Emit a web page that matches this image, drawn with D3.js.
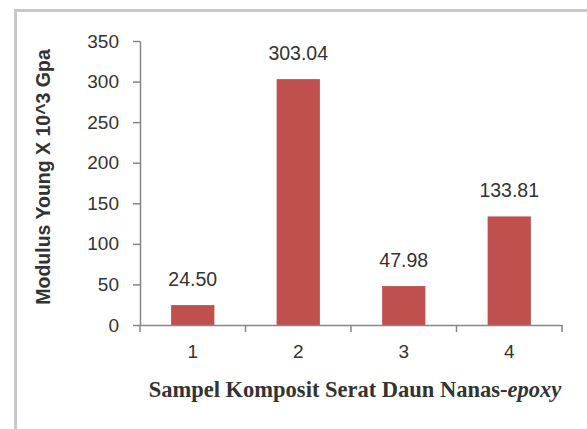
<!doctype html>
<html lang="en">
<head>
  <meta charset="utf-8">
  <title>Modulus Young</title>
  <style>
    body { margin: 0; background: #fff; }
    text { fill: #333; }
  </style>
</head>
<body>
<div id="chartDiv"></div>
<script src="https://d3js.org/d3.v7.min.js"></script>
<script>
// data
var categories = ["1", "2", "3", "4"];
var values = [24.50, 303.04, 47.98, 133.81];
var valueLabels = ["24.50", "303.04", "47.98", "133.81"];
var yTicks = [0, 50, 100, 150, 200, 250, 300, 350];

var width = 587, height = 429;
var svg = d3.select("#chartDiv")
  .append("svg")
  .attr("width", width)
  .attr("height", height);

// frame (only top and left edges are visible)
svg.append("path")
  .attr("d", "M15.5,430 L15.5,10.5 L590,10.5")
  .attr("fill", "none")
  .attr("stroke", "#c8c8c8")
  .attr("stroke-width", 3);

var x = d3.scaleBand().domain(categories).range([140, 562]).padding(0);
var y = d3.scaleLinear().domain([0, 350]).range([325, 41]);
var barW = x.bandwidth() * 0.41;

svg.selectAll("rect.bar")
  .data(values)
  .enter()
  .append("rect")
  .attr("class", "bar")
  .attr("x", function(d, i) { return x(categories[i]) + x.bandwidth() / 2 - barW / 2; })
  .attr("y", function(d) { return y(d); })
  .attr("width", barW)
  .attr("height", function(d) { return y(0) - y(d); })
  .attr("fill", "#c0504d");

svg.selectAll("text.val")
  .data(values)
  .enter()
  .append("text")
  .attr("class", "val")
  .attr("x", function(d, i) { return x(categories[i]) + x.bandwidth() / 2; })
  .attr("y", function(d) { return y(d) - 19; })
  .attr("text-anchor", "middle")
  .attr("font-family", "Liberation Sans, Arial, sans-serif")
  .attr("font-size", 19.5)
  .text(function(d, i) { return valueLabels[i]; });

// y axis
var yAxis = svg.append("g")
  .attr("transform", "translate(140,0)")
  .call(d3.axisLeft(y).tickValues(yTicks).tickSize(7).tickPadding(14).tickSizeOuter(0));
yAxis.select(".domain").attr("stroke", "#868686").attr("stroke-width", 1.5);
yAxis.selectAll(".tick line").attr("stroke", "#868686").attr("stroke-width", 1.5);
yAxis.selectAll(".tick text")
  .attr("font-family", "Liberation Sans, Arial, sans-serif")
  .attr("font-size", 19)
  .attr("fill", "#333");

// x axis: labels centred, ticks on category boundaries
var xAxis = svg.append("g")
  .attr("transform", "translate(0,325)")
  .call(d3.axisBottom(x).tickSize(0).tickPadding(20));
xAxis.select(".domain").attr("stroke", "#868686").attr("stroke-width", 1.5);
xAxis.selectAll(".tick text")
  .attr("font-family", "Liberation Sans, Arial, sans-serif")
  .attr("font-size", 19)
  .attr("fill", "#333");
var bounds = categories.map(function(c) { return x(c); }).concat([x.range()[1]]);
xAxis.selectAll("line.bound")
  .data(bounds)
  .enter()
  .append("line")
  .attr("class", "bound")
  .attr("x1", function(d) { return d; })
  .attr("x2", function(d) { return d; })
  .attr("y1", 0)
  .attr("y2", 7)
  .attr("stroke", "#868686")
  .attr("stroke-width", 1.5);

// axis titles
svg.append("text")
  .attr("transform", "translate(50,177) rotate(-90)")
  .attr("text-anchor", "middle")
  .attr("font-family", "Liberation Sans, Arial, sans-serif")
  .attr("font-weight", "bold")
  .attr("font-size", 19.5)
  .attr("fill", "#1a1a1a")
  .text("Modulus Young X 10^3 Gpa");

var xt = svg.append("text")
  .attr("x", 355)
  .attr("y", 397)
  .attr("text-anchor", "middle")
  .attr("font-family", "Liberation Serif, Times New Roman, serif")
  .attr("font-weight", "bold")
  .attr("font-size", 22.5)
  .attr("fill", "#1a1a1a");
xt.append("tspan").text("Sampel Komposit Serat Daun Nanas-");
xt.append("tspan").attr("font-style", "italic").text("epoxy");
</script>
</body>
</html>
